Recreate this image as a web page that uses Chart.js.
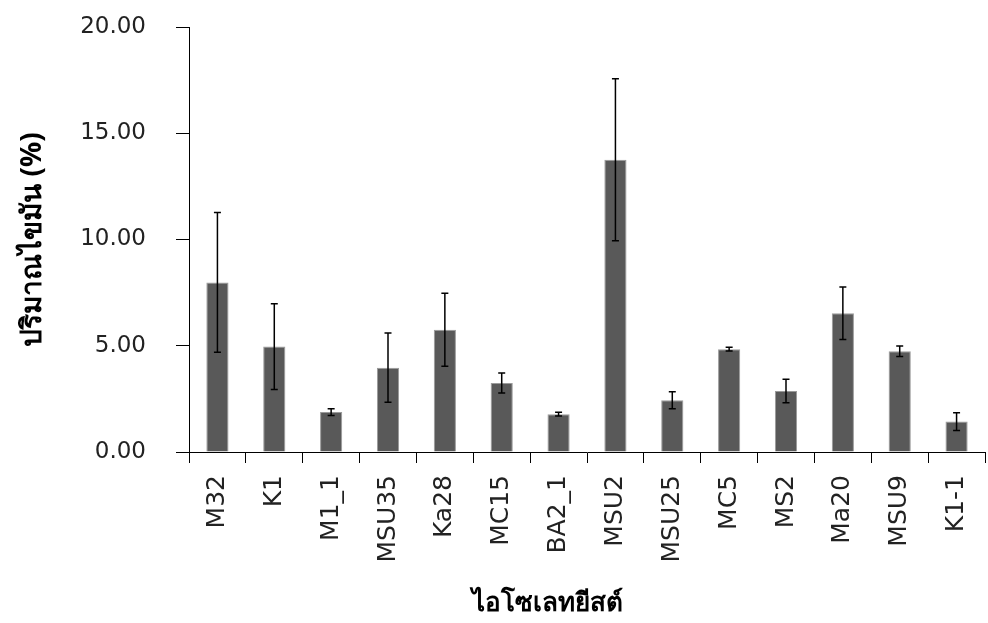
<!DOCTYPE html>
<html lang="th">
  <head>
    <meta charset="UTF-8" />
    <title>ปริมาณไขมัน</title>
    <style>
      * { margin: 0; padding: 0; }
      body { background: #fff; }
      .chartBox { width: 988px; height: 623px; }
    </style>
  </head>
  <body>
    <div class="chartBox">
      <canvas id="myChart" width="988" height="623"></canvas>
    </div>

    <script src="https://cdn.jsdelivr.net/npm/chart.js"></script>

    <script>
      // data block
      const isolates = ["M32", "K1", "M1_1", "MSU35", "Ka28", "MC15", "BA2_1",
        "MSU2", "MSU25", "MC5", "MS2", "Ma20", "MSU9", "K1-1"];
      const fatPercent = [7.98, 4.96, 1.88, 3.97, 5.75, 3.25, 1.78,
        13.75, 2.43, 4.84, 2.87, 6.53, 4.74, 1.43];
      const fatError = [3.29, 2.02, 0.16, 1.63, 1.72, 0.47, 0.09,
        3.81, 0.40, 0.09, 0.55, 1.24, 0.25, 0.42];
      const yTicks = [0, 5, 10, 15, 20];

      const tickFont = { family: "'DejaVu Sans', sans-serif", size: 25 };
      const titleFont = { family: "'Noto Sans', 'DejaVu Sans', sans-serif", size: 26, weight: "bold" };

      // error bar plugin block
      const errorBars = {
        id: "errorBars",
        afterDatasetsDraw(chart) {
          const { ctx, scales: { y } } = chart;
          const bars = chart.getDatasetMeta(0).data;
          ctx.save();
          ctx.strokeStyle = "#000";
          ctx.lineWidth = 1.5;
          bars.forEach((bar, i) => {
            const top = y.getPixelForValue(fatPercent[i] + fatError[i]);
            const bottom = y.getPixelForValue(fatPercent[i] - fatError[i]);
            const cap = 3.5;
            ctx.beginPath();
            ctx.moveTo(bar.x, top);
            ctx.lineTo(bar.x, bottom);
            ctx.moveTo(bar.x - cap, top);
            ctx.lineTo(bar.x + cap, top);
            ctx.moveTo(bar.x - cap, bottom);
            ctx.lineTo(bar.x + cap, bottom);
            ctx.stroke();
          });
          ctx.restore();
        }
      };

      // x title sits a bit left of the plot centre in the original
      const shiftXTitle = {
        id: "shiftXTitle",
        afterLayout(chart) {
          const s = chart.scales.x;
          if (s._shifted) return;
          const draw = s.drawTitle.bind(s);
          s.drawTitle = function () {
            const r = this.right;
            this.right = r - 80;
            draw();
            this.right = r;
          };
          s._shifted = true;
        }
      };

      // config block
      const config = {
        type: "bar",
        data: {
          labels: isolates,
          datasets: [{
            label: "ปริมาณไขมัน (%)",
            data: fatPercent,
            backgroundColor: "#595959",
            borderColor: "#9a9a9a",
            borderWidth: 1,
            barPercentage: 0.39,
            categoryPercentage: 1
          }]
        },
        options: {
          responsive: false,
          animation: false,
          layout: { padding: { top: 27, right: 3, left: 0, bottom: 0 } },
          plugins: {
            legend: { display: false },
            tooltip: { enabled: false }
          },
          scales: {
            x: {
              grid: { drawOnChartArea: false, color: "#000", tickLength: 11, lineWidth: 1 },
              border: { color: "#000", width: 1 },
              ticks: { color: "#222", font: tickFont, minRotation: 90, maxRotation: 90, padding: 12, autoSkip: false },
              title: { display: true, text: "ไอโซเลทยีสต์", color: "#000", font: titleFont, padding: { top: 0, bottom: 4 } },
              afterFit(scale) {
                scale.height = 171;
                scale.paddingLeft = 0;
                scale.paddingRight = 0;
              }
            },
            y: {
              min: 0,
              max: 20,
              afterBuildTicks(scale) { scale.ticks = yTicks.map(v => ({ value: v })); },
              grid: { drawOnChartArea: false, color: "#000", tickLength: 13, lineWidth: 1 },
              border: { color: "#000", width: 1 },
              ticks: { color: "#222", font: { family: "'DejaVu Sans', sans-serif", size: 23 }, padding: 30, callback: v => v.toFixed(2) },
              title: { display: true, text: "ปริมาณไขมัน (%)", color: "#000", font: { ...titleFont, size: 28 }, padding: { top: 16, bottom: 0 } },
              afterFit(scale) {
                scale.width = 189;
                scale.paddingTop = 0;
                scale.paddingBottom = 0;
              }
            }
          }
        },
        plugins: [errorBars, shiftXTitle]
      };

      // init render block
      const myChart = new Chart(document.getElementById("myChart"), config);
    </script>
  </body>
</html>
